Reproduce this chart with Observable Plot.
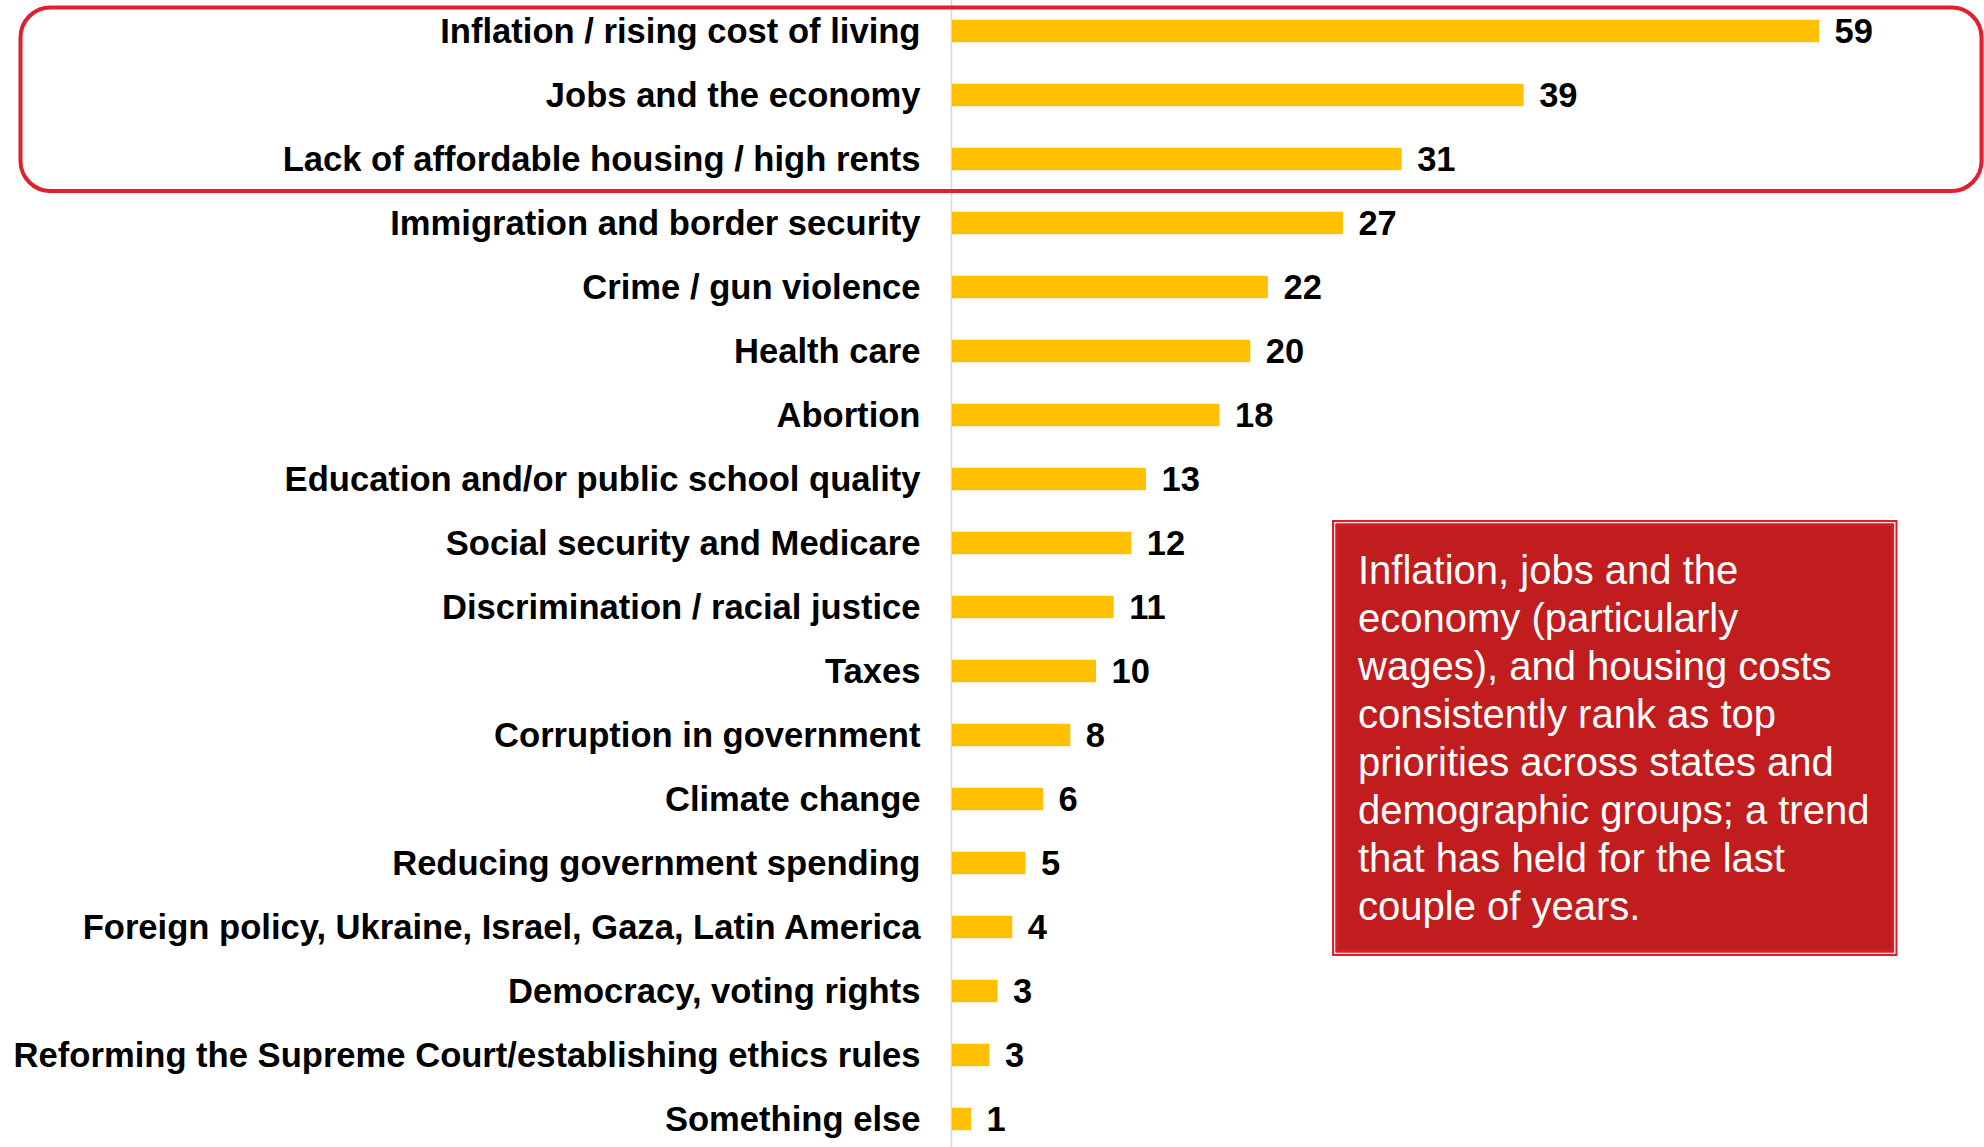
<!DOCTYPE html>
<html>
<head>
<meta charset="utf-8">
<script src="https://cdn.jsdelivr.net/npm/d3@7"></script>
<script src="https://cdn.jsdelivr.net/npm/@observablehq/plot@0.6"></script>
<style>
  html, body { margin: 0; padding: 0; background: #fff; }
  #chart svg { display: block; }
</style>
</head>
<body>
<div id="chart"></div>
<script>
// ---- data ----
const categories = [
  "Inflation / rising cost of living",
  "Jobs and the economy",
  "Lack of affordable housing / high rents",
  "Immigration and border security",
  "Crime / gun violence",
  "Health care",
  "Abortion",
  "Education and/or public school quality",
  "Social security and Medicare",
  "Discrimination / racial justice",
  "Taxes",
  "Corruption in government",
  "Climate change",
  "Reducing government spending",
  "Foreign policy, Ukraine, Israel, Gaza, Latin America",
  "Democracy, voting rights",
  "Reforming the Supreme Court/establishing ethics rules",
  "Something else"
];
const values = [59, 38.9, 30.6, 26.6, 21.5, 20.3, 18.2, 13.2, 12.2, 11.0, 9.8, 8.05, 6.2, 5.0, 4.1, 3.1, 2.55, 1.3];
const highlighted = categories.slice(0, 3);
const noteLines = [
  "Inflation, jobs and the",
  "economy (particularly",
  "wages), and housing costs",
  "consistently rank as top",
  "priorities across states and",
  "demographic groups; a trend",
  "that has held for the last",
  "couple of years."
];

const data = categories.map((c, i) => ({category: c, value: values[i]}));
const FONT = "'Liberation Sans', Arial, Helvetica, sans-serif";

const plot = Plot.plot({
  width: 1984,
  height: 1147,
  marginLeft: 0, marginRight: 0, marginTop: 0, marginBottom: 0,
  style: {fontFamily: FONT, background: "#fff", color: "#000"},
  x: {domain: [0, 59], range: [952, 1819], axis: null},
  y: {domain: categories, range: [-1.5, 1150.5], padding: 0, axis: null},
  marks: [
    Plot.ruleX([0], {stroke: "#d9d9d9", strokeWidth: 1.6, dx: -1}),
    Plot.barX(data, {x: "value", y: "category", fill: "#ffc000", insetTop: 20.8, insetBottom: 20.8}),
    Plot.text(data, {
      x: "value", y: "category", text: d => String(Math.round(d.value)),
      dx: 15, textAnchor: "start", fontSize: 34.5, fontWeight: "bold", fill: "#000"
    }),
    Plot.text(data, {
      x: () => 0, y: "category", text: "category",
      dx: -32, textAnchor: "end", fontSize: 34.6, fontWeight: "bold", fill: "#000"
    })
  ]
});

document.getElementById("chart").appendChild(plot);

// ---- annotations ----
const svg = d3.select(plot);
const yS = plot.scale("y");
const top0 = yS.apply(highlighted[0]) + yS.bandwidth / 2 - 23.5;
const bot0 = yS.apply(highlighted[highlighted.length - 1]) + yS.bandwidth / 2 + 32;
svg.append("rect")
  .attr("x", 20.5).attr("y", top0)
  .attr("width", 1961).attr("height", bot0 - top0)
  .attr("rx", 30).attr("ry", 30)
  .attr("fill", "none").attr("stroke", "#e0202e").attr("stroke-width", 4);

const box = svg.append("g");
box.append("rect").attr("x", 1332).attr("y", 520).attr("width", 565.5).attr("height", 436).attr("fill", "#dc1f2b");
box.append("rect").attr("x", 1334.8).attr("y", 522.8).attr("width", 560).attr("height", 430.4)
  .attr("fill", "none").attr("stroke", "#fff").attr("stroke-width", 1.3);
box.append("rect").attr("x", 1337).attr("y", 525).attr("width", 555.5).attr("height", 426)
  .attr("fill", "#c11d1f").attr("stroke", "#d22027").attr("stroke-width", 3);
const t = box.append("text")
  .attr("font-family", FONT).attr("font-size", 40).attr("fill", "#fff")
  .attr("text-anchor", "start").style("text-anchor", "start");
noteLines.forEach((line, i) => {
  t.append("tspan").attr("x", 1358).attr("y", 584 + i * 48)
    .attr("text-anchor", "start").text(line);
});
</script>
</body>
</html>
